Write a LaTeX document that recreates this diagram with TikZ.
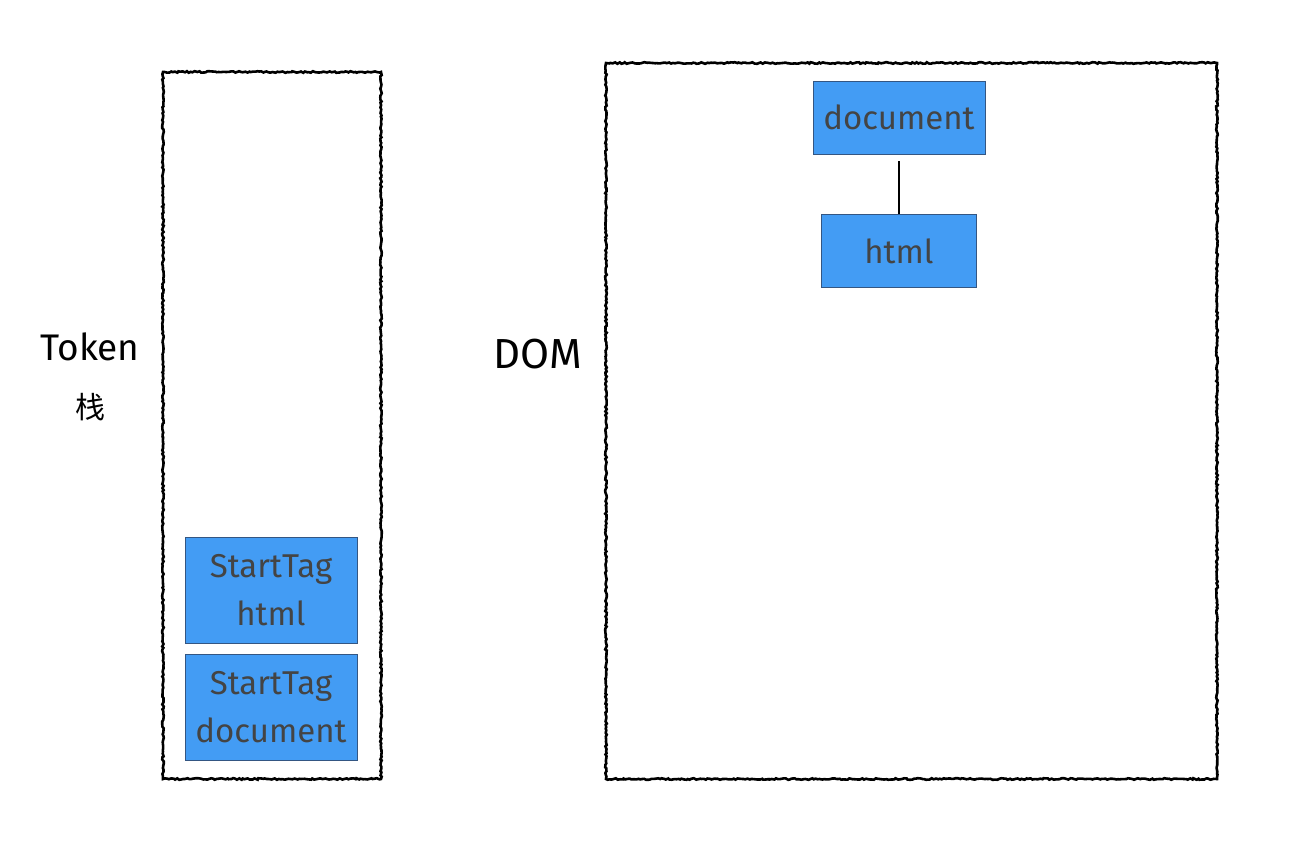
\documentclass[tikz,border=0pt]{standalone}
\usepackage{fontspec}
\setmainfont{Fira Sans}
\newfontfamily\cjk{Noto Sans CJK SC}
\usetikzlibrary{positioning, decorations.pathmorphing}
\definecolor{tagblue}{RGB}{67,156,244}
\definecolor{tagedge}{RGB}{52,86,130}
\definecolor{tagtext}{RGB}{68,68,68}
\tikzstyle{frame} = [rectangle, draw=black, line width=2.6pt, decorate, decoration={random steps, segment length=2pt, amplitude=0.8pt}]
\tikzstyle{token} = [rectangle, minimum width=172pt, minimum height=106pt, align=center, draw=tagedge, line width=0.8pt, fill=tagblue, text=tagtext, font=\fontsize{33}{48}\selectfont]
\tikzstyle{domnode} = [token, minimum height=73pt]
\tikzstyle{label} = [text=black, font=\fontsize{37}{44}\selectfont]

\begin{document}
\begin{tikzpicture}[x=1pt, y=-1pt]
\useasboundingbox (0,0) rectangle (1298,866);

% Frames
\node (stack) [frame, minimum width=218pt, minimum height=707pt] at (272,425.5) {};
\node (dom) [frame, minimum width=611pt, minimum height=716pt] at (911.5,421) {};

% Labels
\node (tokenlabel) [label] at (90,347) {Token};
\node (stacklabel) [label, font=\cjk\fontsize{30}{34}\selectfont] at (90,407) {栈};
\node (domlabel) [label, font=\fontsize{42}{48}\selectfont] at (538,354) {DOM};

% Token stack
\node (tagdoc) [token] at (271,707) {StartTag\\document};
\node (taghtml) [token, above=10pt of tagdoc] {StartTag\\html};

% DOM tree
\node (docnode) [domnode] at (899,117.5) {document};
\node (htmlnode) [domnode, minimum width=155pt, below=60pt of docnode] {html};

\draw [line width=1.2pt, shorten <=7pt] (docnode.south) -- (htmlnode.north);

\end{tikzpicture}
\end{document}
